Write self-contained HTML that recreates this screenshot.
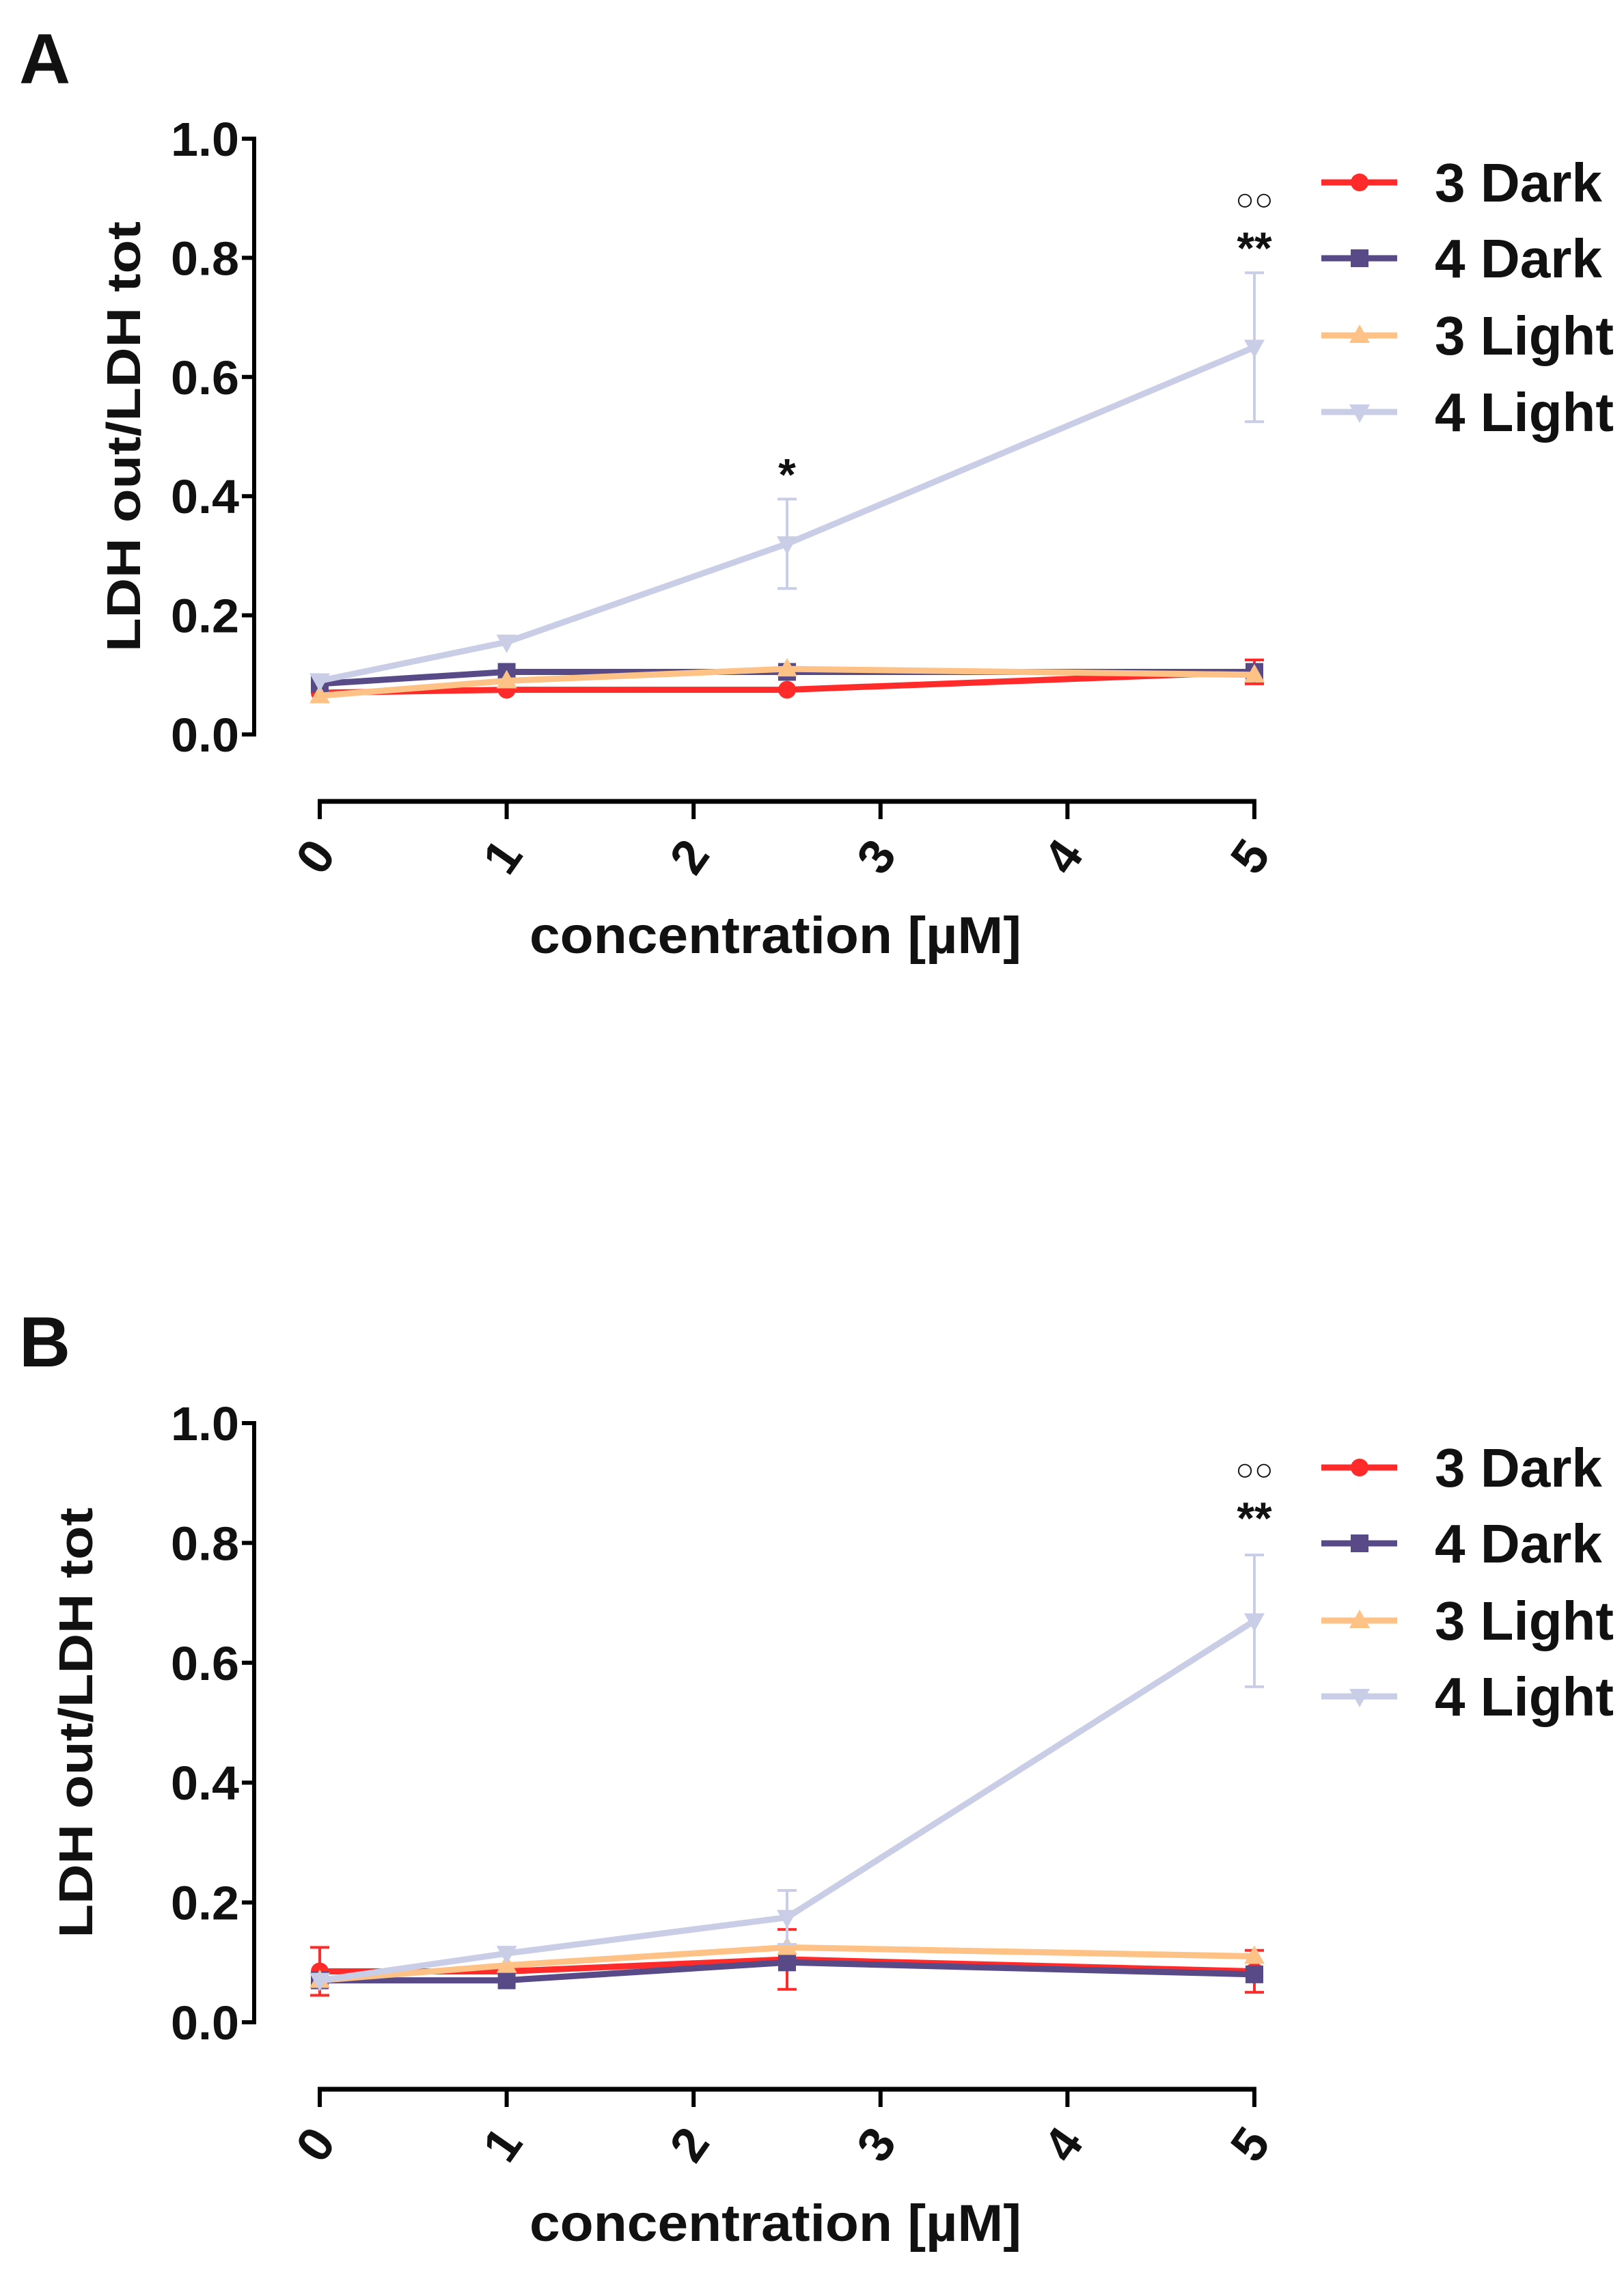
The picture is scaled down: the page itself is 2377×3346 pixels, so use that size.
<!DOCTYPE html>
<html><head><meta charset="utf-8"><style>
html,body{margin:0;padding:0;background:#fff}
svg{display:block}
text{font-family:"Liberation Sans",sans-serif;font-weight:bold;fill:#111}
</style></head><body>
<svg id="fig" width="2377" height="3346" viewBox="0 0 2377 3346" xmlns="http://www.w3.org/2000/svg"></svg>
<script>
const xCats=[0,1,2.5,5];
const xTicks=[0,1,2,3,4,5];
const yTicks=[0,0.2,0.4,0.6,0.8,1.0];
const seriesNames=["3 Dark","4 Dark","3 Light","4 Light"];
const seriesColors=["#ff2b2b","#574a86","#ffc286","#c9cde6"];
const aDark3=[0.07,0.075,0.075,0.105];
const aDark4=[0.085,0.105,0.105,0.105];
const aLight3=[0.065,0.09,0.11,0.1];
const aLight4=[0.09,0.155,0.32,0.65];
const aErr4L=[0,0,0.075,0.125];
const aErr3D=[0,0,0,0.02];
const bDark3=[0.085,0.085,0.105,0.085];
const bDark4=[0.07,0.07,0.1,0.08];
const bLight3=[0.07,0.095,0.125,0.11];
const bLight4=[0.07,0.115,0.175,0.67];
const bErr4L=[0,0,0.045,0.11];
const bErr3D=[0.04,0,0.05,0.035];
const NS="http://www.w3.org/2000/svg";
const svg=document.getElementById('fig');
function mk(tag,attrs,parent,txt){const e=document.createElementNS(NS,tag);for(const k in attrs)e.setAttribute(k,attrs[k]);if(txt!==undefined)e.textContent=txt;(parent||svg).appendChild(e);return e;}
function panel(cfg){
  const g=mk('g',{});
  
  
  const X0=468,X1=1836,axX=372;
  const xs=v=>X0+(X1-X0)*v/5;
  const ys=v=>cfg.y0+(cfg.y1-cfg.y0)*v;
  const lab=mk('text',{x:28,y:cfg.labelY,'font-size':104},g,cfg.label);
  
  
  const ya=mk('line',{x1:axX,y1:cfg.y1-3,x2:axX,y2:cfg.y0+3,stroke:'#000','stroke-width':6},g);
  
  
  yTicks.forEach(t=>{
    mk('line',{x1:axX-18,y1:ys(t),x2:axX,y2:ys(t),stroke:'#000','stroke-width':6},g);
    const tl=mk('text',{x:axX-22,y:ys(t)+25,'font-size':70,'text-anchor':'end',textLength:100,lengthAdjust:'spacingAndGlyphs'},g,t.toFixed(1));
    
    
  });
  const yt=mk('text',{x:0,y:0,'font-size':70,'text-anchor':'middle',textLength:630,lengthAdjust:'spacingAndGlyphs',transform:`translate(${cfg.ytX},${(cfg.y0+cfg.y1)/2}) rotate(-90)`},g,'LDH out/LDH tot');
  
  
  const xa=mk('line',{x1:X0-3,y1:cfg.xAxY,x2:X1+3,y2:cfg.xAxY,stroke:'#000','stroke-width':7},g);
  
  
  xTicks.forEach(t=>{
    mk('line',{x1:xs(t),y1:cfg.xAxY,x2:xs(t),y2:cfg.xAxY+26,stroke:'#000','stroke-width':6},g);
    const tl=mk('text',{x:0,y:0,'font-size':72,'text-anchor':'middle',transform:`translate(${xs(t)+14},${cfg.xAxY+95}) rotate(-55)`},g,String(t));
    
    
  });
  const xt=mk('text',{x:1135,y:cfg.xAxY+222,'font-size':76,'text-anchor':'middle',textLength:720,lengthAdjust:'spacingAndGlyphs'},g,'concentration [µM]');
  
  
  cfg.data.forEach((vals,si)=>{
    const col=seriesColors[si];
    const sg=mk('g',{},g);
    
    
    const err=cfg.errs[si];
    if(err){xCats.forEach((c,i)=>{if(err[i]>0){
      mk('line',{x1:xs(c),y1:ys(vals[i]-err[i]),x2:xs(c),y2:ys(vals[i]+err[i]),stroke:col,'stroke-width':4},sg);
      mk('line',{x1:xs(c)-14,y1:ys(vals[i]-err[i]),x2:xs(c)+14,y2:ys(vals[i]-err[i]),stroke:col,'stroke-width':4},sg);
      mk('line',{x1:xs(c)-14,y1:ys(vals[i]+err[i]),x2:xs(c)+14,y2:ys(vals[i]+err[i]),stroke:col,'stroke-width':4},sg);
    }});}
    const pts=xCats.map((c,i)=>xs(c)+','+ys(vals[i])).join(' ');
    const pl=mk('polyline',{points:pts,fill:'none',stroke:col,'stroke-width':9,'stroke-linejoin':'round'},sg);
    
    
    xCats.forEach((c,i)=>marker(sg,si,xs(c),ys(vals[i]),col));
  });
  cfg.ann.forEach(a=>{
    const t=mk('text',{x:xs(a[0]),y:ys(a[1]),'font-size':a[3],'text-anchor':'middle','font-weight':'normal'},g,a[2]);
    
    
  });
  seriesNames.forEach((n,i)=>{
    const lg=mk('g',{},g);
    
    
    const y=cfg.legY[i];
    mk('line',{x1:1934,y1:y,x2:2045,y2:y,stroke:seriesColors[i],'stroke-width':9},lg);
    marker(lg,i,1990,y,seriesColors[i]);
    mk('text',{x:2100,y:y+28,'font-size':80,textLength:i<2?245:262,lengthAdjust:'spacingAndGlyphs'},lg,n);
  });
}
function marker(p,si,x,y,c){
  const r=13;
  if(si===0)mk('circle',{cx:x,cy:y,r:r,fill:c},p);
  else if(si===1)mk('rect',{x:x-r,y:y-r,width:2*r,height:2*r,fill:c},p);
  else if(si===2)mk('polygon',{points:`${x},${y-r-3} ${x-r-2},${y+r-2} ${x+r+2},${y+r-2}`,fill:c},p);
  else mk('polygon',{points:`${x},${y+r+3} ${x-r-2},${y-r+2} ${x+r+2},${y-r+2}`,fill:c},p);
}
panel({label:'A',labelY:122,y0:1075,y1:203,xAxY:1173,ytX:205,
  data:[aDark3,aDark4,aLight3,aLight4],errs:[aErr3D,null,null,aErr4L],
  legY:[267,378,491,603],
  ann:[[2.5,0.41,'*',66],[5,0.79,'**',66],[5,0.88,'○○',46]]});
panel({label:'B',labelY:2000,y0:2960,y1:2083,xAxY:3058,ytX:135,
  data:[bDark3,bDark4,bLight3,bLight4],errs:[bErr3D,null,null,bErr4L],
  legY:[2148,2259,2372,2483],
  ann:[[5,0.815,'**',66],[5,0.905,'○○',46]]});
</script>
</body></html>
